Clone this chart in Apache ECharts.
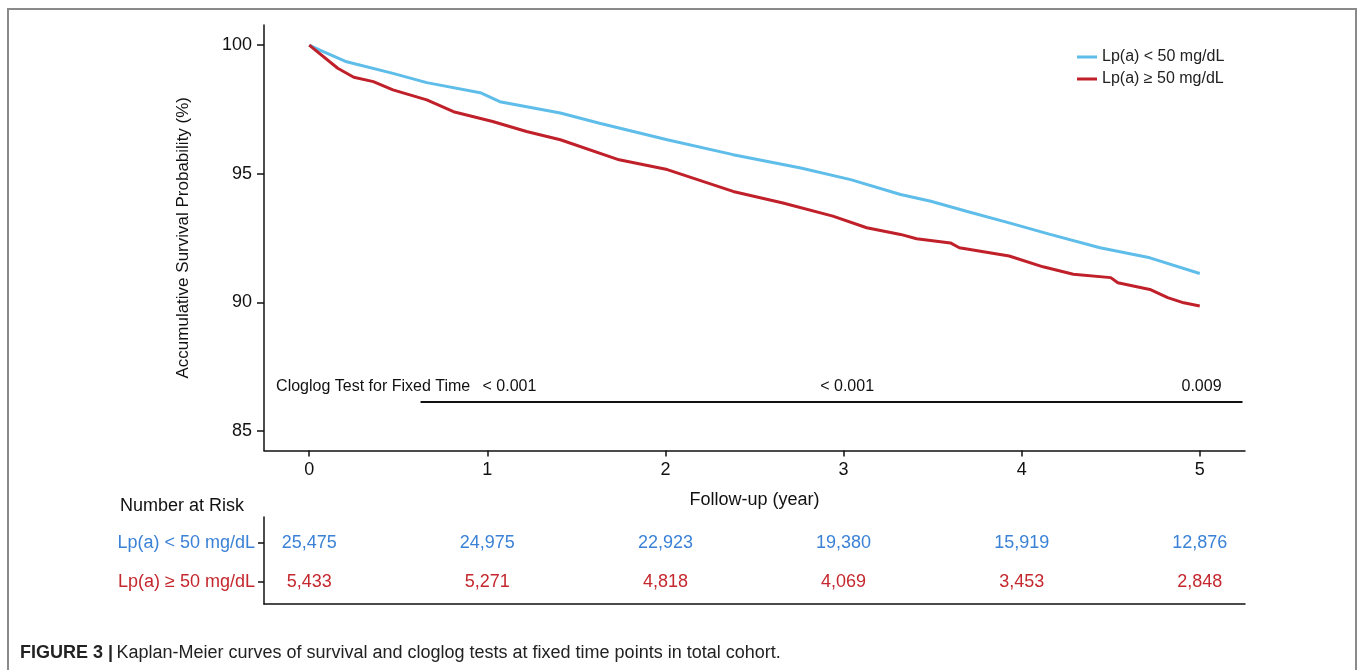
<!DOCTYPE html>
<html>
<head>
<meta charset="utf-8">
<script src="https://cdn.jsdelivr.net/npm/echarts@6.0.0/dist/echarts.min.js"></script>
<style>
html,body{margin:0;padding:0;background:#fff;}
#chart{width:1360px;height:670px;}
</style>
</head>
<body>
<div id="chart"></div>
<script>
// ---- data ----
const seriesNames = ['Lp(a) < 50 mg/dL', 'Lp(a) \u2265 50 mg/dL'];
const lowTime = [0, 0.06, 0.21, 0.47, 0.66, 0.96, 1.07, 1.41, 1.63, 2.01, 2.38, 2.76, 3.04, 3.32, 3.49, 3.69, 3.93, 4.16, 4.44, 4.72, 5.00];
const lowSurv = [100, 99.8, 99.35, 98.90, 98.54, 98.15, 97.80, 97.36, 96.96, 96.32, 95.74, 95.22, 94.77, 94.19, 93.93, 93.54, 93.09, 92.64, 92.12, 91.73, 91.12];
const highTime = [0, 0.16, 0.25, 0.36, 0.47, 0.66, 0.81, 1.03, 1.22, 1.41, 1.74, 2.01, 2.38, 2.66, 2.94, 3.13, 3.32, 3.41, 3.60, 3.65, 3.93, 4.12, 4.29, 4.50, 4.54, 4.72, 4.82, 4.91, 5.00];
const highSurv = [100, 99.10, 98.75, 98.58, 98.26, 97.87, 97.41, 97.03, 96.64, 96.32, 95.54, 95.16, 94.31, 93.86, 93.35, 92.90, 92.64, 92.47, 92.31, 92.12, 91.80, 91.38, 91.09, 90.96, 90.76, 90.50, 90.18, 89.98, 89.86];
const riskYears = [0, 1, 2, 3, 4, 5];
const riskLow = [25475, 24975, 22923, 19380, 15919, 12876];
const riskHigh = [5433, 5271, 4818, 4069, 3453, 2848];
const xTicks = [0, 1, 2, 3, 4, 5];
const yTicks = [85, 90, 95, 100];
const cloglogLabel = 'Cloglog Test for Fixed Time';
const cloglogTimes = [1.124, 3.02, 5.01];
const cloglogP = ['< 0.001', '< 0.001', '0.009'];

// ---- styles ----
const BLUE_LINE = '#5fbde9';
const RED_LINE = '#c0202a';
const BLUE_TXT = '#3b82d6';
const RED_TXT = '#c4282e';
const FONT = 'Liberation Sans, Arial, Helvetica, sans-serif';

const chart = echarts.init(document.getElementById('chart'));

const zip = (a, b) => a.map((v, i) => [v, b[i]]);

const riskData = [];
riskYears.forEach((t, i) => {
  riskData.push({value: [t, 1, riskLow[i]], label: {color: BLUE_TXT}});
  riskData.push({value: [t, 0, riskHigh[i]], label: {color: RED_TXT}});
});

const option = {
  animation: false,
  backgroundColor: '#fff',
  textStyle: {fontFamily: FONT},
  grid: [
    {left: 264, right: 115, top: 25, height: 425.5},
    {left: 264, right: 115, top: 517, height: 87}
  ],
  legend: {
    data: seriesNames,
    orient: 'vertical',
    left: 1072,
    top: 44,
    icon: 'rect',
    itemWidth: 20,
    itemHeight: 3,
    itemGap: 6,
    textStyle: {fontSize: 16, color: '#222', fontFamily: FONT}
  },
  xAxis: [
    {
      type: 'value', gridIndex: 0, min: -0.254, max: 5.254,
      name: 'Follow-up (year)', nameLocation: 'middle', nameGap: 41,
      nameTextStyle: {fontSize: 18, color: '#111', fontFamily: FONT},
      axisLine: {show: true, onZero: false, lineStyle: {color: '#111', width: 1.5}},
      axisTick: {show: true, length: 6, lineStyle: {color: '#111', width: 1.5}, customValues: xTicks},
      axisLabel: {fontSize: 18, color: '#111', margin: 11, customValues: xTicks, fontFamily: FONT},
      splitLine: {show: false}
    },
    {
      type: 'value', gridIndex: 1, min: -0.254, max: 5.254,
      axisLine: {show: true, onZero: false, lineStyle: {color: '#111', width: 1.5}},
      axisTick: {show: false}, axisLabel: {show: false}, splitLine: {show: false}
    }
  ],
  yAxis: [
    {
      type: 'value', gridIndex: 0, min: 84.24, max: 100.78,
      name: 'Accumulative Survival Probability (%)', nameLocation: 'middle', nameGap: 72,
      nameTextStyle: {fontSize: 17, color: '#111', fontFamily: FONT},
      axisLine: {show: true, onZero: false, lineStyle: {color: '#111', width: 1.5}},
      axisTick: {show: true, length: 7, lineStyle: {color: '#111', width: 1.5}, customValues: yTicks},
      axisLabel: {fontSize: 18, color: '#111', margin: 12, customValues: yTicks, fontFamily: FONT},
      splitLine: {show: false}
    },
    {
      type: 'value', gridIndex: 1, min: -0.564, max: 1.667,
      axisLine: {show: true, onZero: false, lineStyle: {color: '#111', width: 1.5}},
      axisTick: {show: true, length: 6, lineStyle: {color: '#111', width: 1.5}, customValues: [0, 1]},
      axisLabel: {
        margin: 9, customValues: [0, 1],
        formatter: v => v === 1 ? '{b|' + seriesNames[0] + '}' : '{r|' + seriesNames[1] + '}',
        rich: {
          b: {fontSize: 18, color: BLUE_TXT, fontFamily: FONT},
          r: {fontSize: 18, color: RED_TXT, fontFamily: FONT}
        }
      },
      splitLine: {show: false}
    }
  ],
  series: [
    {
      name: seriesNames[0], type: 'line', xAxisIndex: 0, yAxisIndex: 0,
      data: zip(lowTime, lowSurv), showSymbol: false, symbol: 'none',
      lineStyle: {color: BLUE_LINE, width: 3}, itemStyle: {color: BLUE_LINE}, z: 3
    },
    {
      name: seriesNames[1], type: 'line', xAxisIndex: 0, yAxisIndex: 0,
      data: zip(highTime, highSurv), showSymbol: false, symbol: 'none',
      lineStyle: {color: RED_LINE, width: 3}, itemStyle: {color: RED_LINE}, z: 4,
      markLine: {
        silent: true, symbol: 'none', label: {show: false},
        lineStyle: {color: '#111', width: 2, type: 'solid'},
        data: [[{coord: [0.625, 86.12]}, {coord: [5.24, 86.12]}]]
      }
    },
    {
      name: 'cloglog', type: 'scatter', xAxisIndex: 0, yAxisIndex: 0,
      symbolSize: 0, silent: true, itemStyle: {opacity: 1},
      data: [{value: [-0.186, 86.71], name: cloglogLabel, label: {align: 'left'}}]
        .concat(cloglogTimes.map((t, i) => ({value: [t, 86.71], name: cloglogP[i]}))),
      label: {show: true, position: 'inside', formatter: p => p.name, fontSize: 16, color: '#111', opacity: 1, fontFamily: FONT}
    },
    {
      name: 'risk', type: 'scatter', xAxisIndex: 1, yAxisIndex: 1,
      symbolSize: 0, silent: true, data: riskData, itemStyle: {opacity: 1},
      label: {show: true, position: 'inside', fontSize: 18, opacity: 1, fontFamily: FONT,
        formatter: p => p.value[2].toLocaleString('en-US')}
    }
  ],
  graphic: [
    {type: 'rect', shape: {x: 8, y: 9, width: 1348, height: 700}, style: {fill: 'none', stroke: '#8a8a8a', lineWidth: 2}, silent: true},
    {type: 'text', left: 120, top: 497, style: {text: 'Number at Risk', fontSize: 18, fill: '#111', fontFamily: FONT}},
    {type: 'text', left: 20, top: 644, style: {
      text: '{b|FIGURE 3 |} {r|Kaplan-Meier curves of survival and cloglog tests at fixed time points in total cohort.}',
      rich: {
        b: {fontSize: 18, fontWeight: 'bold', fill: '#222', fontFamily: FONT},
        r: {fontSize: 18, fill: '#222', fontFamily: FONT}
      }
    }}
  ]
};
chart.setOption(option);
</script>
</body>
</html>
